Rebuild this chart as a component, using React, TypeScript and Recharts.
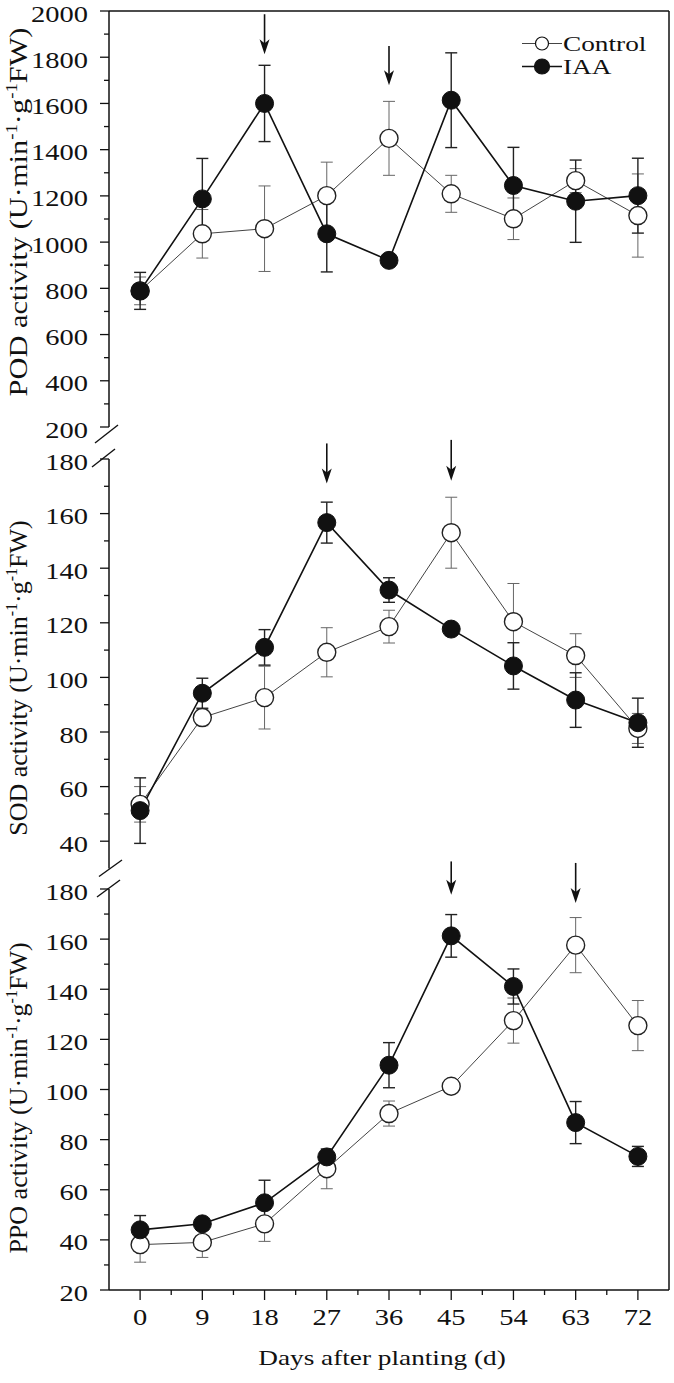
import React from "react";
import { LineChart, Line, XAxis, YAxis, ErrorBar, ReferenceLine, Legend } from "recharts";

const days = [0, 9, 18, 27, 36, 45, 54, 63, 72];
const seriesNames = ["Control", "IAA"];

const podControl = [789, 1036, 1058, 1201, 1449, 1209, 1101, 1266, 1115];
const podControlErr = [60, 105, 185, 145, 160, 80, 90, 52, 180];
const podIaa = [789, 1187, 1600, 1036, 921, 1614, 1245, 1177, 1201];
const podIaaErr = [80, 175, 165, 165, 12, 205, 165, 178, 162];

const sodControl = [53.5, 85.3, 92.6, 109.2, 118.6, 153, 120.4, 108, 81.3];
const sodControlErr = [6.5, 3, 11.5, 9, 6, 13, 14, 8, 5.5];
const sodIaa = [51.2, 94.2, 111, 156.7, 132, 117.7, 104.2, 91.7, 83.4];
const sodIaaErr = [12, 5.5, 6.5, 7.5, 4.5, 1, 8.5, 10, 9];

const ppoControl = [38.1, 39, 46.4, 68.4, 90.4, 101.3, 127.5, 157.6, 125.5];
const ppoControlErr = [7, 6, 7, 8, 5, 2, 9, 11, 10];
const ppoIaa = [44, 46.4, 54.8, 73.1, 109.7, 161.3, 141.1, 86.8, 73.3];
const ppoIaaErr = [5.7, 2, 9, 3, 9, 8.5, 7, 8.4, 4];

const dayTicks = [0, 4.5, 9, 13.5, 18, 22.5, 27, 31.5, 36, 40.5, 45, 49.5, 54, 58.5, 63, 67.5, 72];
const podTicks = [200, 300, 400, 500, 600, 700, 800, 900, 1000, 1100, 1200, 1300, 1400, 1500, 1600, 1700, 1800, 1900, 2000];
const sodTicks = [40, 50, 60, 70, 80, 90, 100, 110, 120, 130, 140, 150, 160, 170, 180];
const ppoTicks = [20, 30, 40, 50, 60, 70, 80, 90, 100, 110, 120, 130, 140, 150, 160, 170, 180];

// arrows: day, start value, tip value
const podArrows = [[18, 1986, 1813], [36, 1849, 1679]];
const sodArrows = [[27, 185.7, 171], [45, 187, 172]];
const ppoArrows = [[45, 191, 177.7], [63, 190.4, 174.4]];

const serif = "'Liberation Serif', 'Times New Roman', Times, serif";
const ink = "#111";
// the original figure is stretched sideways, so texts get a horizontal scale
const stretch = 1.24;

const makeRows = (c: number[], ce: number[], t: number[], te: number[]) =>
  days.map((d, i) => ({ day: d, control: c[i], controlErr: ce[i], iaa: t[i], iaaErr: te[i] }));

const SText = ({ x, y, anchor, size, children }: any) => (
  <text
    transform={`translate(${x},${y}) scale(${stretch},1)`}
    textAnchor={anchor}
    dominantBaseline="central"
    fontFamily={serif}
    fontSize={size}
    fill={ink}
  >
    {children}
  </text>
);

const YTick = (props: any) => {
  const { x, y, payload, step } = props;
  const major = payload.value % step === 0;
  return (
    <g>
      <line x1={x - (major ? 9 : 5)} x2={x} y1={y} y2={y} stroke={ink} strokeWidth={1.3} />
      {major && (
        <SText x={x - 21} y={y + 3} anchor="end" size={23}>
          {payload.value}
        </SText>
      )}
    </g>
  );
};

const XTick = (props: any) => {
  const { x, y, payload } = props;
  const major = payload.value % 9 === 0;
  return (
    <g>
      <line x1={x} x2={x} y1={y} y2={y + (major ? 10 : 5)} stroke={ink} strokeWidth={1.3} />
      {major && (
        <SText x={x} y={y + 27} anchor="middle" size={23}>
          {payload.value}
        </SText>
      )}
    </g>
  );
};

const YTitle = (props: any) => {
  const { name, center, len } = props;
  return (
    <text
      transform={`translate(27, ${center}) rotate(-90) scale(${len},1)`}
      textAnchor="middle"
      fontFamily={serif}
      fontSize={26}
      fill={ink}
    >
      <tspan>{name} activity (U·min</tspan>
      <tspan fontSize={16} dy={-10}>-1</tspan>
      <tspan dy={10}>·g</tspan>
      <tspan fontSize={16} dy={-10}>-1</tspan>
      <tspan dy={10}>FW)</tspan>
    </text>
  );
};

const XTitle = (props: any) => {
  const { viewBox } = props;
  return (
    <SText x={viewBox.x + viewBox.width / 2 - 7} y={viewBox.y + 67} anchor="middle" size={22}>
      Days after planting (d)
    </SText>
  );
};

const vBorder = (extTop: number, extBottom: number) => (p: any) => (
  <line x1={p.x1} x2={p.x1} y1={Math.min(p.y1, p.y2) - extTop} y2={Math.max(p.y1, p.y2) + extBottom} stroke={ink} strokeWidth={1.5} />
);

const slash = (o: number[]) => (p: any) => (
  <line x1={p.x1 + o[0]} y1={p.y1 + o[1]} x2={p.x1 + o[2]} y2={p.y1 + o[3]} stroke={ink} strokeWidth={1.4} />
);

const arrowShape = (p: any) => {
  const { x1, y1, x2, y2 } = p;
  return (
    <g>
      <line x1={x1} x2={x2} y1={y1} y2={y2 - 8} stroke={ink} strokeWidth={1.6} />
      <path d={`M${x2 - 5},${y2 - 15} L${x2},${y2} L${x2 + 5},${y2 - 15} L${x2},${y2 - 11} Z`} fill={ink} />
    </g>
  );
};

const LegendBox = () => (
  <div style={{ fontFamily: serif, fontSize: 22, lineHeight: "23px", color: ink }}>
    {seriesNames.map((n, i) => (
      <div key={n} style={{ display: "flex", alignItems: "center", height: 23 }}>
        <svg width={42} height={23} style={{ display: "block" }}>
          <line x1={1} x2={41} y1={11.5} y2={11.5} stroke={i === 0 ? "#444" : ink} strokeWidth={i === 0 ? 1 : 1.6} />
          <circle cx={21} cy={11.5} r={i === 0 ? 6.5 : 7.5} fill={i === 0 ? "#fff" : ink} stroke={ink} strokeWidth={1.2} />
        </svg>
        <span style={{ display: "inline-block", transform: `scaleX(${stretch})`, transformOrigin: "left center", marginLeft: 0 }}>{n}</span>
      </div>
    ))}
  </div>
);

interface PanelProps {
  top: number;
  height: number;
  margin: { top: number; bottom: number };
  rows: any[];
  domain: [number, number];
  ticks: number[];
  step: number;
  name: string;
  center: number;
  len: number;
  arrows: number[][];
  borderExt: [number, number];
  slashes: { y: number; o: number[] }[];
  showX?: boolean;
  legend?: boolean;
  topLine?: boolean;
}

function Panel(p: PanelProps) {
  return (
    <div style={{ position: "absolute", left: 0, top: p.top }}>
      <LineChart width={674} height={p.height} data={p.rows} margin={{ top: p.margin.top, right: 5, bottom: p.margin.bottom, left: 0 }}>
        <XAxis
          type="number"
          dataKey="day"
          domain={[-4.5, 76.5]}
          allowDataOverflow
          ticks={dayTicks}
          interval={0}
          tickSize={0}
          tickMargin={0}
          tickLine={false}
          axisLine={{ stroke: ink, strokeWidth: 1.5 }}
          tick={XTick}
          height={p.showX ? 93 : 0}
          hide={!p.showX}
          label={p.showX ? { content: XTitle } : undefined}
        />
        <YAxis
          type="number"
          domain={p.domain}
          allowDataOverflow
          ticks={p.ticks}
          interval={0}
          width={109}
          tickSize={0}
          tickMargin={0}
          tickLine={false}
          axisLine={{ stroke: ink, strokeWidth: 1.5 }}
          tick={(tp: any) => <YTick {...tp} step={p.step} />}
          label={{ content: () => <YTitle name={p.name} center={p.center - p.top} len={p.len} /> }}
        />
        {p.topLine && <ReferenceLine y={p.domain[1]} stroke={ink} strokeWidth={1.5} />}
        <ReferenceLine
          segment={[{ x: 76.5, y: p.domain[1] }, { x: 76.5, y: p.domain[0] }]}
          ifOverflow="visible"
          shape={vBorder(p.borderExt[0], p.borderExt[1])}
        />
        {p.slashes.map((s, i) => (
          <ReferenceLine key={"s" + i} segment={[{ x: -4.5, y: s.y }, { x: -4.5, y: s.y }]} ifOverflow="visible" shape={slash(s.o)} />
        ))}
        {p.arrows.map((a, i) => (
          <ReferenceLine key={"a" + i} segment={[{ x: a[0], y: a[1] }, { x: a[0], y: a[2] }]} ifOverflow="visible" shape={arrowShape} />
        ))}
        <Line
          type="linear"
          dataKey="control"
          name={seriesNames[0]}
          stroke="#444"
          strokeWidth={1}
          dot={{ r: 9, fill: "#fff", stroke: "#222", strokeWidth: 1.4 }}
          activeDot={false}
          isAnimationActive={false}
        >
          <ErrorBar dataKey="controlErr" width={6} stroke="#666" strokeWidth={1} direction="y" />
        </Line>
        <Line
          type="linear"
          dataKey="iaa"
          name={seriesNames[1]}
          stroke={ink}
          strokeWidth={1.6}
          dot={{ r: 9, fill: ink, stroke: ink, strokeWidth: 1 }}
          activeDot={false}
          isAnimationActive={false}
        >
          <ErrorBar dataKey="iaaErr" width={6} stroke="#222" strokeWidth={1.4} direction="y" />
        </Line>
        {p.legend && (
          <Legend
            layout="horizontal"
            verticalAlign="middle"
            content={LegendBox}
            wrapperStyle={{ left: 521, top: 32, width: 150, height: 46 }}
          />
        )}
      </LineChart>
    </div>
  );
}

export default function App() {
  return (
    <div style={{ position: "absolute", left: 0, top: 0, width: 674, height: 1383, background: "#fff" }}>
      <Panel
        top={0}
        height={450}
        margin={{ top: 11, bottom: 23 }}
        rows={makeRows(podControl, podControlErr, podIaa, podIaaErr)}
        domain={[200, 2000]}
        ticks={podTicks}
        step={200}
        name="POD"
        center={212}
        len={1.17}
        arrows={podArrows}
        borderExt={[0, 13]}
        slashes={[{ y: 200, o: [-14, 16, 9, -2] }]}
        legend
        topLine
      />
      <Panel
        top={430}
        height={450}
        margin={{ top: 29, bottom: 11.5 }}
        rows={makeRows(sodControl, sodControlErr, sodIaa, sodIaaErr)}
        domain={[30, 180]}
        ticks={sodTicks}
        step={20}
        name="SOD"
        center={678}
        len={1.0}
        arrows={sodArrows}
        borderExt={[19, 9.5]}
        slashes={[
          { y: 180, o: [-17, 8, 6, -10] },
          { y: 30, o: [-10, 8, 13, -8.5] },
        ]}
      />
      <Panel
        top={850}
        height={533}
        margin={{ top: 39, bottom: 0 }}
        rows={makeRows(ppoControl, ppoControlErr, ppoIaa, ppoIaaErr)}
        domain={[20, 180]}
        ticks={ppoTicks}
        step={20}
        name="PPO"
        center={1098}
        len={1.0}
        arrows={ppoArrows}
        borderExt={[11, 0]}
        slashes={[{ y: 180, o: [-12, 8, 11, -9] }]}
        showX
      />
    </div>
  );
}
